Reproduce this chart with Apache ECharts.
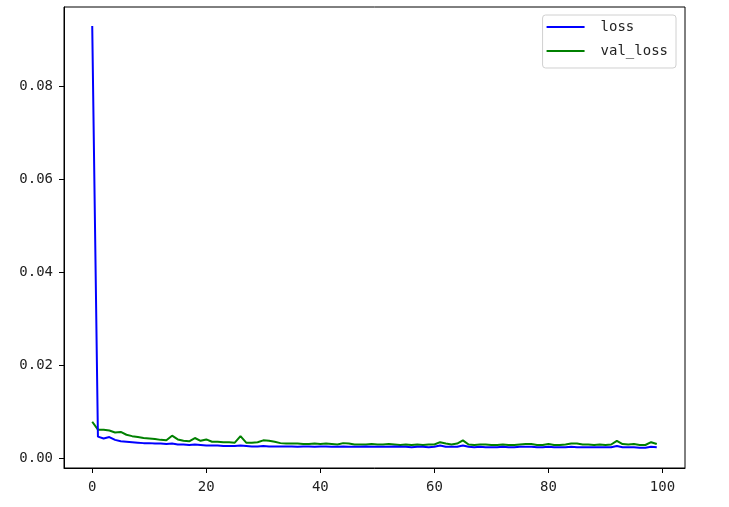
<!DOCTYPE html>
<html>
<head>
<meta charset="utf-8">
<script src="https://cdn.jsdelivr.net/npm/echarts@6/dist/echarts.min.js"></script>
<style>html,body{margin:0;padding:0;background:#fff;}#c{width:729px;height:507px;}</style>
</head>
<body>
<div id="c"></div>
<script>
const seriesNames = ['loss', 'val_loss'];
const xTicks = [0, 20, 40, 60, 80, 100];
const yTicks = [0, 0.02, 0.04, 0.06, 0.08];
const loss = [
  0.0929, 0.0046, 0.0042, 0.0045, 0.0039, 0.0036, 0.0035, 0.0034, 0.0033, 0.0032,
  0.0032, 0.0031, 0.0031, 0.0030, 0.0031, 0.0029, 0.0029, 0.0028, 0.0029, 0.0028,
  0.0027, 0.0027, 0.0027, 0.0026, 0.0026, 0.0026, 0.0027, 0.0026, 0.0025, 0.0025,
  0.0026, 0.0025, 0.0025, 0.0025, 0.0025, 0.0025, 0.0024, 0.0025, 0.0025, 0.0024,
  0.0025, 0.0025, 0.0024, 0.0024, 0.0025, 0.0024, 0.0024, 0.0024, 0.0025, 0.0024,
  0.0024, 0.0024, 0.0024, 0.0025, 0.0024, 0.0024, 0.0023, 0.0024, 0.0024, 0.0023,
  0.0024, 0.0027, 0.0024, 0.0024, 0.0024, 0.0027, 0.0024, 0.0023, 0.0024, 0.0023,
  0.0023, 0.0023, 0.0024, 0.0023, 0.0023, 0.0024, 0.0024, 0.0024, 0.0023, 0.0023,
  0.0024, 0.0023, 0.0023, 0.0023, 0.0024, 0.0023, 0.0023, 0.0023, 0.0023, 0.0023,
  0.0023, 0.0023, 0.0026, 0.0023, 0.0023, 0.0023, 0.0022, 0.0022, 0.0024, 0.0023
];
const valLoss = [
  0.0078, 0.0061, 0.0061, 0.0059, 0.0055, 0.0056, 0.0050, 0.0047, 0.0045, 0.0043,
  0.0042, 0.0041, 0.0039, 0.0038, 0.0048, 0.0040, 0.0037, 0.0036, 0.0043, 0.0037,
  0.0040, 0.0035, 0.0035, 0.0034, 0.0034, 0.0033, 0.0047, 0.0033, 0.0033, 0.0034,
  0.0038, 0.0037, 0.0035, 0.0032, 0.0031, 0.0031, 0.0031, 0.0030, 0.0030, 0.0031,
  0.0030, 0.0031, 0.0030, 0.0029, 0.0032, 0.0031, 0.0029, 0.0029, 0.0029, 0.0030,
  0.0029, 0.0029, 0.0030, 0.0029, 0.0028, 0.0029, 0.0028, 0.0029, 0.0028, 0.0029,
  0.0029, 0.0034, 0.0031, 0.0029, 0.0031, 0.0038, 0.0029, 0.0028, 0.0029, 0.0029,
  0.0028, 0.0028, 0.0029, 0.0028, 0.0028, 0.0029, 0.0030, 0.0030, 0.0028, 0.0028,
  0.0030, 0.0028, 0.0028, 0.0029, 0.0031, 0.0031, 0.0029, 0.0029, 0.0028, 0.0029,
  0.0028, 0.0029, 0.0037, 0.0030, 0.0029, 0.0030, 0.0028, 0.0028, 0.0034, 0.0030
];

const FONT = '"DejaVu Sans Mono", "Noto Sans CJK SC", monospace';
const chart = echarts.init(document.getElementById('c'), null, {renderer: 'canvas'});
chart.setOption({
  animation: false,
  backgroundColor: '#fff',
  grid: {left: 64, right: 44, top: 7, bottom: 39, show: true, borderColor: '#000', borderWidth: 1, containLabel: false},
  legend: {
    data: seriesNames,
    orient: 'vertical',
    right: 53,
    top: 15,
    icon: 'rect',
    itemWidth: 38,
    itemHeight: 2,
    itemGap: 10,
    padding: [5, 8, 10, 4],
    borderColor: '#d0d0d0',
    borderWidth: 1,
    borderRadius: 3,
    backgroundColor: '#fff',
    textStyle: {fontFamily: FONT, fontSize: 14, color: '#222', padding: [0, 0, 0, 11]}
  },
  xAxis: {
    type: 'value',
    min: -4.95,
    max: 103.95,
    axisLine: {show: true, onZero: false, lineStyle: {color: '#000', width: 1}},
    splitLine: {show: false},
    axisTick: {show: true, inside: false, length: 5, lineStyle: {color: '#000'}, customValues: xTicks},
    axisLabel: {show: true, margin: 12, fontFamily: FONT, fontSize: 14, color: '#222', customValues: xTicks,
      formatter: v => String(Math.round(v))}
  },
  yAxis: {
    type: 'value',
    min: -0.00215,
    max: 0.097,
    axisLine: {show: true, onZero: false, lineStyle: {color: '#000', width: 1}},
    splitLine: {show: false},
    axisTick: {show: true, inside: false, length: 5, lineStyle: {color: '#000'}, customValues: yTicks},
    axisLabel: {show: true, margin: 11, fontFamily: FONT, fontSize: 14, color: '#222', customValues: yTicks,
      formatter: v => v.toFixed(2)}
  },
  series: [
    {name: seriesNames[0], type: 'line', data: loss.map((v, i) => [i, v]), symbol: 'none',
     lineStyle: {color: '#0000ff', width: 2}, itemStyle: {color: '#0000ff'}, z: 3},
    {name: seriesNames[1], type: 'line', data: valLoss.map((v, i) => [i, v]), symbol: 'none',
     lineStyle: {color: '#008000', width: 2}, itemStyle: {color: '#008000'}, z: 2}
  ]
});
</script>
</body>
</html>
